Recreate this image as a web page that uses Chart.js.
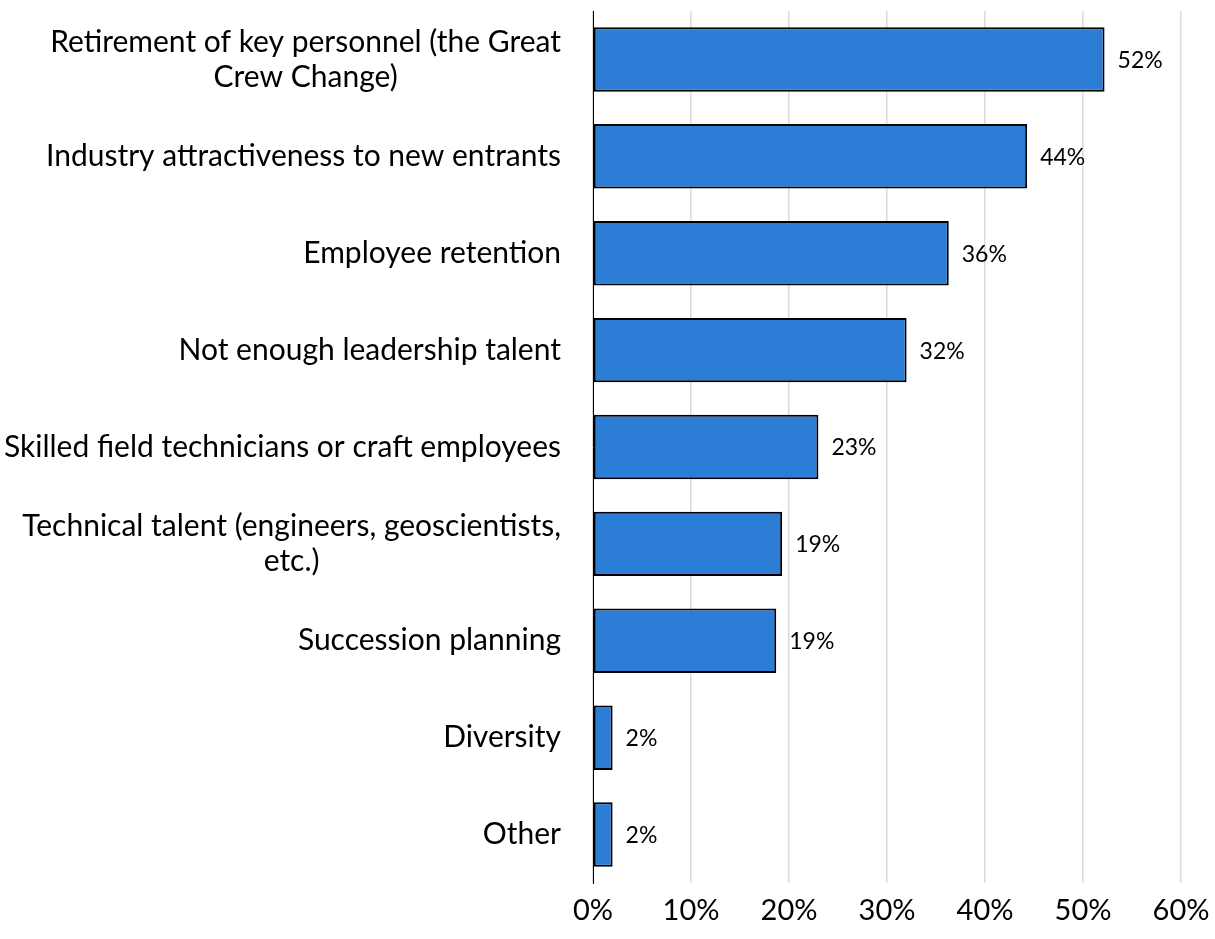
<!DOCTYPE html>
<html>
<head>
<meta charset="utf-8">
<script src="https://cdn.jsdelivr.net/npm/chart.js@4.4.1/dist/chart.umd.min.js"></script>
<style>
    html, body { margin: 0; padding: 0; background: #fff; }
    #wrap { width: 1215px; height: 939px; position: relative; }
</style>
</head>
<body>
<div id="wrap"><canvas id="talentChart"></canvas></div>
<script>
// Talent challenges, share of respondents (%)
const categories = [
    ['Retirement of key personnel (the Great', 'Crew Change)'],
    ['Industry attractiveness to new entrants'],
    ['Employee retention'],
    ['Not enough leadership talent'],
    ['Skilled field technicians or craft employees'],
    ['Technical talent (engineers, geoscientists,', 'etc.)'],
    ['Succession planning'],
    ['Diversity'],
    ['Other']
];
const shares = [52.2, 44.3, 36.3, 32.0, 23.0, 19.3, 18.7, 2.0, 2.0];
const xTicks = [0, 10, 20, 30, 40, 50, 60];

const FONT = 'Lato, "Open Sans", sans-serif';
const AXIS_LEFT = 593;
const AXIS_BOTTOM = 883;

// category names drawn left of the axis, lines centred inside a right-aligned block
const categoryLabels = {
    id: 'categoryLabels',
    afterDraw(chart) {
        const ctx = chart.ctx;
        const yScale = chart.scales.y;
        const right = chart.chartArea.left - 32;
        ctx.save();
        ctx.font = '30px ' + FONT;
        ctx.fillStyle = '#000';
        ctx.textAlign = 'center';
        ctx.textBaseline = 'middle';
        categories.forEach((lines, i) => {
            const y = yScale.getPixelForTick(i);
            const blockW = Math.max(...lines.map(l => ctx.measureText(l).width));
            const cx = right - blockW / 2;
            const lineH = 35;
            const y0 = y - (lines.length - 1) * lineH / 2;
            lines.forEach((l, j) => ctx.fillText(l, cx, y0 + j * lineH));
        });
        ctx.restore();
    }
};

// value labels at the end of each bar
const valueLabels = {
    id: 'valueLabels',
    afterDatasetsDraw(chart) {
        const ctx = chart.ctx;
        const meta = chart.getDatasetMeta(0);
        ctx.save();
        ctx.font = '23px ' + FONT;
        ctx.fillStyle = '#000';
        ctx.textAlign = 'left';
        ctx.textBaseline = 'middle';
        meta.data.forEach((bar, i) => {
            ctx.fillText(Math.round(shares[i]) + '%', bar.x + 13, bar.y + 1);
        });
        ctx.restore();
    }
};

function drawChart() {
    const ctx = document.getElementById('talentChart').getContext('2d');
    new Chart(ctx, {
        type: 'bar',
        data: {
            labels: categories.map(c => c.join(' ')),
            datasets: [{
                data: shares,
                backgroundColor: '#2b7dd6',
                borderColor: '#000',
                borderWidth: 2,
                borderSkipped: false,
                categoryPercentage: 1,
                barPercentage: 0.665
            }]
        },
        options: {
            indexAxis: 'y',
            responsive: true,
            maintainAspectRatio: false,
            animation: false,
            layout: { padding: { left: 0, right: 34, top: 11, bottom: 0 } },
            plugins: { legend: { display: false }, tooltip: { enabled: false } },
            scales: {
                x: {
                    min: 0,
                    max: 60,
                    afterBuildTicks: scale => { scale.ticks = xTicks.map(v => ({ value: v })); },
                    afterFit: scale => {
                        scale.height = 939 - AXIS_BOTTOM;
                        scale.paddingLeft = 0;
                        scale.paddingRight = 0;
                    },
                    grid: { color: '#d9d9d9', lineWidth: 1.5, drawTicks: false },
                    border: { display: false },
                    ticks: {
                        padding: 10,
                        color: '#000',
                        font: { family: FONT, size: 29 },
                        callback: v => v + '%'
                    }
                },
                y: {
                    afterFit: scale => { scale.width = AXIS_LEFT; },
                    grid: { display: false },
                    border: { display: true, color: '#000', width: 1 },
                    ticks: { display: false }
                }
            }
        },
        plugins: [categoryLabels, valueLabels]
    });
}

document.fonts.load('30px Lato').then(drawChart, drawChart);
</script>
</body>
</html>
